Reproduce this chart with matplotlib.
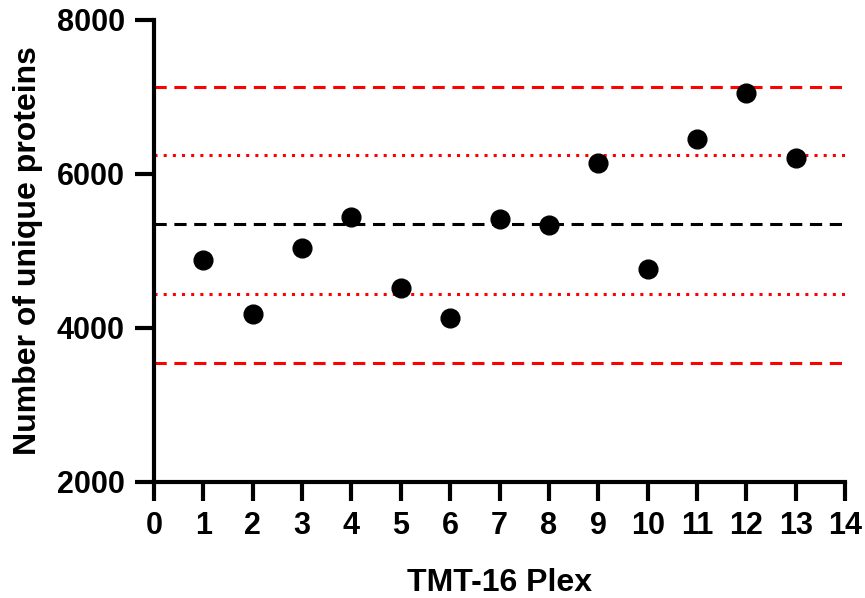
import matplotlib.pyplot as plt

plt.rcParams['font.family'] = ['Liberation Sans', 'DejaVu Sans']
plt.rcParams['font.weight'] = 'bold'

# TMT-16 plex runs and unique protein counts
plex = [1, 2, 3, 4, 5, 6, 7, 8, 9, 10, 11, 12, 13]
proteins = [4875, 4185, 5035, 5440, 4520, 4130, 5420, 5330, 6140, 4770, 6450, 7050, 6200]

# reference lines: mean, +-1 SD, +-2 SD
mean_line = 5345
sd1_lines = [6240, 4445]
sd2_lines = [7128, 3547]

fig = plt.figure(figsize=(8.65, 5.98), dpi=100)
ax = fig.add_axes([0.178, 0.194, 0.799, 0.773])

ax.axhline(mean_line, color='black', lw=2.2, ls=(0, (4, 2.5)), zorder=1)
for v in sd1_lines:
    ax.axhline(v, color='red', lw=2.2, ls=(0, (1, 2)), zorder=1)
for v in sd2_lines:
    ax.axhline(v, color='red', lw=2.2, ls=(0, (4, 2.5)), zorder=1)

ax.plot(plex, proteins, 'o', color='black', markersize=13.5, zorder=3)

ax.set_xlim(0, 14)
ax.set_ylim(2000, 8000)
ax.set_xticks(range(0, 15))
ax.set_yticks([2000, 4000, 6000, 8000])

for s in ['top', 'right']:
    ax.spines[s].set_visible(False)
for s in ['left', 'bottom']:
    ax.spines[s].set_linewidth(3)
ax.tick_params(width=3, length=14, labelsize=22, pad=7)
for lbl in ax.get_xticklabels() + ax.get_yticklabels():
    lbl.set_fontweight('bold')

ax.set_xlabel("TMT-16 Plex", fontsize=23, fontweight='bold', labelpad=19)
ax.set_ylabel("Number of unique proteins", fontsize=23, fontweight='bold', labelpad=10)

fig.savefig("out.png", dpi=100)
